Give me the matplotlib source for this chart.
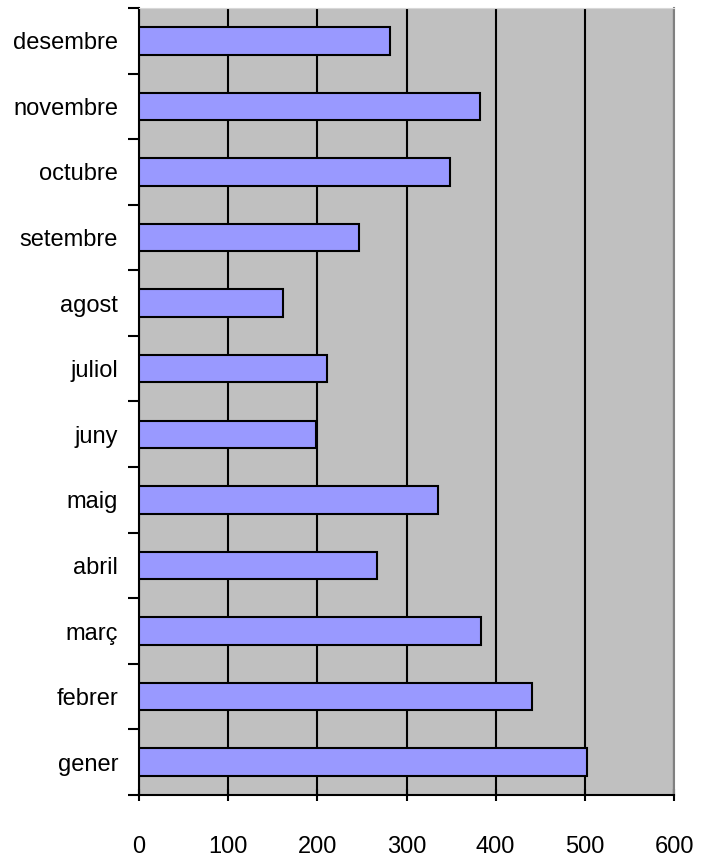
import matplotlib
matplotlib.use("Agg")
import matplotlib.pyplot as plt
from matplotlib.ticker import FixedLocator, MultipleLocator

plt.rcParams['font.family'] = ['Liberation Sans', 'DejaVu Sans']

# monthly totals, January at the bottom
mesos = ['gener', 'febrer', 'març', 'abril', 'maig', 'juny',
         'juliol', 'agost', 'setembre', 'octubre', 'novembre', 'desembre']
valors = [502, 441, 383, 267, 335, 199, 211, 161, 247, 349, 382, 281]

fig = plt.figure(figsize=(7.02, 8.63), dpi=100)
ax = fig.add_axes([139/702, 1 - 795/863, (674-139)/702, (795-8)/863])

ax.set_facecolor('#c0c0c0')
pos = list(range(len(mesos)))
ax.barh(pos, valors, height=0.42, color='#9999ff', edgecolor='black',
        linewidth=1.5, zorder=3)

ax.set_xlim(0, 600)
ax.set_ylim(-0.5, len(mesos) - 0.5)
ax.xaxis.set_major_locator(MultipleLocator(100))
ax.grid(axis='x', color='black', linewidth=1.5, zorder=1)
ax.set_axisbelow(True)

ax.set_yticks(pos)
ax.set_yticklabels(mesos)
ax.yaxis.set_minor_locator(FixedLocator([i - 0.5 for i in range(len(mesos) + 1)]))
ax.tick_params(axis='y', which='major', length=0, pad=15, labelsize=17)
ax.tick_params(axis='y', which='minor', length=8, width=1.5, direction='out')
ax.tick_params(axis='x', length=9, width=1.5, direction='inout', pad=25, labelsize=17)

for s in ['left', 'bottom']:
    ax.spines[s].set_color('black')
    ax.spines[s].set_linewidth(1.5)
ax.spines['right'].set_color('#808080')
ax.spines['right'].set_linewidth(1.5)
ax.spines['top'].set_color('#d8d8d8')

fig.savefig('out.png', dpi=100, facecolor='white')
